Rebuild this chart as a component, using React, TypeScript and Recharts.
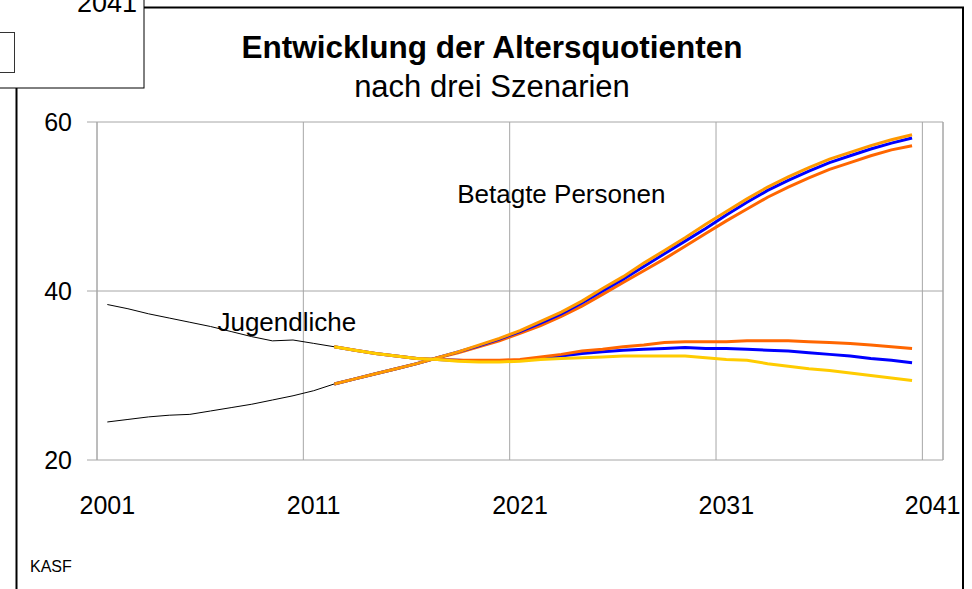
import React from 'react';
import { LineChart, Line, XAxis, YAxis, CartesianGrid, ReferenceLine, ReferenceDot } from 'recharts';

const FONT = '"Liberation Sans", Arial, sans-serif';

// categories
const years = [
  2001, 2002, 2003, 2004, 2005, 2006, 2007, 2008, 2009, 2010,
  2011, 2012, 2013, 2014, 2015, 2016, 2017, 2018, 2019, 2020,
  2021, 2022, 2023, 2024, 2025, 2026, 2027, 2028, 2029, 2030,
  2031, 2032, 2033, 2034, 2035, 2036, 2037, 2038, 2039, 2040,
];
const firstScenarioYear = 2012;

// observed values 2001-2012
const histYouth = [38.4, 37.9, 37.3, 36.8, 36.3, 35.8, 35.2, 34.6, 34.1, 34.2, 33.8, 33.4];
const histOld = [24.5, 24.8, 25.1, 25.3, 25.4, 25.8, 26.2, 26.6, 27.1, 27.6, 28.2, 29.0];

// scenarios 2012-2040
const oldMid = [
  29.0, 29.6, 30.2, 30.8, 31.4, 32.1, 32.8, 33.5, 34.3, 35.2, 36.2, 37.3, 38.6, 40.0, 41.4,
  42.9, 44.4, 45.9, 47.4, 49.0, 50.5, 51.9, 53.1, 54.2, 55.2, 56.0, 56.8, 57.5, 58.1,
];
const oldHigh = [
  29.0, 29.6, 30.2, 30.8, 31.4, 32.1, 32.8, 33.6, 34.4, 35.3, 36.4, 37.5, 38.8, 40.3, 41.7,
  43.3, 44.8, 46.3, 47.9, 49.4, 50.9, 52.3, 53.5, 54.6, 55.6, 56.4, 57.2, 57.9, 58.5,
];
const oldLow = [
  29.0, 29.6, 30.2, 30.8, 31.4, 32.1, 32.7, 33.4, 34.1, 35.0, 35.9, 37.0, 38.2, 39.6, 41.0,
  42.4, 43.8, 45.3, 46.8, 48.3, 49.7, 51.1, 52.3, 53.4, 54.4, 55.2, 56.0, 56.7, 57.2,
];
const youthMid = [
  33.4, 33.0, 32.6, 32.3, 32.0, 31.9, 31.8, 31.7, 31.7, 31.8, 32.0, 32.3, 32.6, 32.8, 33.0,
  33.1, 33.2, 33.3, 33.2, 33.2, 33.1, 33.0, 32.9, 32.7, 32.5, 32.3, 32.0, 31.8, 31.5,
];
const youthHigh = [
  33.4, 33.0, 32.6, 32.3, 32.0, 31.9, 31.8, 31.8, 31.8, 31.9, 32.2, 32.5, 32.9, 33.1, 33.4,
  33.6, 33.9, 34.0, 34.0, 34.0, 34.1, 34.1, 34.1, 34.0, 33.9, 33.8, 33.6, 33.4, 33.2,
];
const youthLow = [
  33.4, 33.0, 32.6, 32.3, 32.0, 31.9, 31.7, 31.6, 31.6, 31.7, 31.9, 32.0, 32.1, 32.2, 32.3,
  32.3, 32.3, 32.3, 32.1, 31.9, 31.8, 31.4, 31.1, 30.8, 30.6, 30.3, 30.0, 29.7, 29.4,
];

// axis ticks
const yTicks = [20, 40, 60];
const xLabels = [2001, 2011, 2021, 2031, 2041];
const xBounds = [2000.5, 2010.5, 2020.5, 2030.5, 2040.5];

const data = years.map((year, i) => {
  const s = year - firstScenarioYear;
  return {
    year,
    histYouth: histYouth[i],
    histOld: histOld[i],
    oldMid: s >= 0 ? oldMid[s] : undefined,
    oldHigh: s >= 0 ? oldHigh[s] : undefined,
    oldLow: s >= 0 ? oldLow[s] : undefined,
    youthMid: s >= 0 ? youthMid[s] : undefined,
    youthHigh: s >= 0 ? youthHigh[s] : undefined,
    youthLow: s >= 0 ? youthLow[s] : undefined,
  };
});

const GRID = '#a6a6a6';

export default function App() {
  return (
    <div style={{ position: 'absolute', left: 0, top: 0, width: 972, height: 589, background: '#fff', overflow: 'hidden' }}>
      <LineChart
        width={972}
        height={589}
        data={data}
        margin={{ top: 122, right: 29, bottom: 89, left: 37 }}
      >
        <CartesianGrid xAxisId="g" stroke={GRID} ticks={xBounds} />
        <XAxis
          xAxisId="g"
          dataKey="year"
          type="number"
          domain={[2000.5, 2041.5]}
          ticks={xBounds}
          height={0}
          tickSize={8}
          stroke={GRID}
          tickFormatter={() => ''}
        />
        <XAxis
          xAxisId="l"
          dataKey="year"
          type="number"
          domain={[2000.5, 2041.5]}
          ticks={xLabels}
          height={40}
          axisLine={false}
          tickLine={false}
          tickSize={0}
          tickMargin={36}
          interval={0}
          tick={{ fill: '#000', fontSize: 25, fontFamily: FONT }}
        />
        <YAxis
          domain={[20, 60]}
          ticks={yTicks}
          width={60}
          tickSize={10}
          tickMargin={15}
          stroke={GRID}
          tick={{ fill: '#000', fontSize: 25, fontFamily: FONT }}
        />
        <ReferenceLine xAxisId="g" x={2041.5} stroke={GRID} />

        <Line xAxisId="l" dataKey="histYouth" stroke="#000" strokeWidth={1} dot={false} isAnimationActive={false} />
        <Line xAxisId="l" dataKey="histOld" stroke="#000" strokeWidth={1} dot={false} isAnimationActive={false} />
        <Line xAxisId="l" dataKey="youthMid" stroke="#0000ff" strokeWidth={3} dot={false} isAnimationActive={false} />
        <Line xAxisId="l" dataKey="youthHigh" stroke="#ff6600" strokeWidth={3} dot={false} isAnimationActive={false} />
        <Line xAxisId="l" dataKey="oldLow" stroke="#ff6600" strokeWidth={3} dot={false} isAnimationActive={false} />
        <Line xAxisId="l" dataKey="oldMid" stroke="#0000ff" strokeWidth={3} dot={false} isAnimationActive={false} />
        <Line xAxisId="l" dataKey="oldHigh" stroke="#ff9900" strokeWidth={3} dot={false} isAnimationActive={false} />
        <Line xAxisId="l" dataKey="youthLow" stroke="#ffcc00" strokeWidth={3} dot={false} isAnimationActive={false} />

        <ReferenceDot
          xAxisId="l"
          x={2009.7}
          y={36.3}
          r={0}
          fill="none"
          stroke="none"
          label={{ value: 'Jugendliche', position: 'center', fill: '#000', fontSize: 26, fontFamily: FONT }}
        />
        <ReferenceDot
          xAxisId="l"
          x={2023}
          y={51.5}
          r={0}
          fill="none"
          stroke="none"
          label={{ value: 'Betagte Personen', position: 'center', fill: '#000', fontSize: 26, fontFamily: FONT }}
        />
      </LineChart>

      <svg width={972} height={589} style={{ position: 'absolute', left: 0, top: 0, pointerEvents: 'none' }}>
        <path d="M16.5,589 V7.5 H963 V589" fill="none" stroke="#000" strokeWidth={2} />
        <rect x={-1} y={-1} width={145} height={89} fill="#fff" stroke="#000" strokeWidth={1} />
        <rect x={-1} y={32.5} width={15.5} height={40} fill="none" stroke="#333" strokeWidth={1} />
        <text x={137} y={12} textAnchor="end" fontSize={27} fontFamily={FONT} fill="#000">2041</text>
        <text x={492} y={58} textAnchor="middle" fontSize={31.5} fontWeight="bold" fontFamily={FONT} fill="#000">
          Entwicklung der Altersquotienten
        </text>
        <text x={492} y={97} textAnchor="middle" fontSize={31} fontFamily={FONT} fill="#000">
          nach drei Szenarien
        </text>
        <text x={30} y={572} fontSize={16} fontFamily={FONT} fill="#000">KASF</text>
      </svg>
    </div>
  );
}
